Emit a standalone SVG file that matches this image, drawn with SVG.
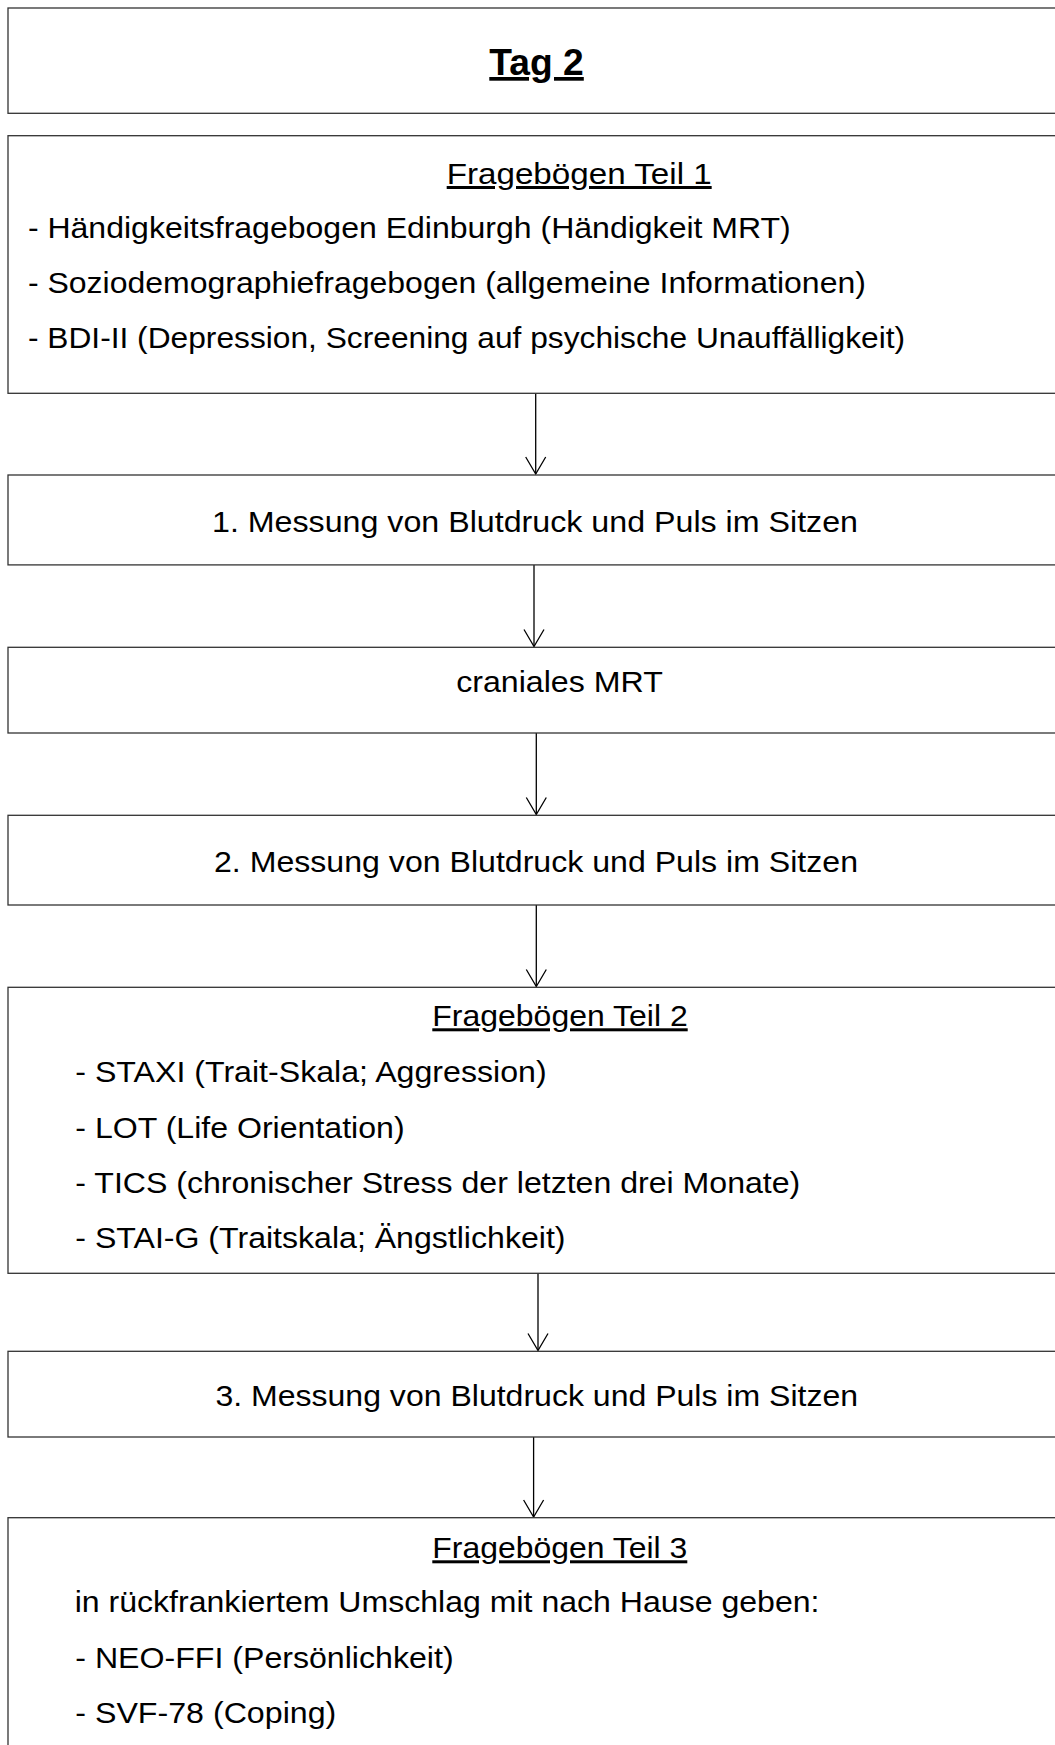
<svg xmlns="http://www.w3.org/2000/svg" width="1055" height="1745" viewBox="0 0 1055 1745">
<style>
  .box { fill: #ffffff; stroke: #333333; stroke-width: 1.3; }
  .t { font-family: "Liberation Sans", Arial, sans-serif; font-size: 30px; fill: #000000; }
  .h { text-decoration: underline; }
  .title { font-family: "Liberation Sans", Arial, sans-serif; font-size: 37px; font-weight: bold; fill: #000000; text-decoration: underline; }
  .conn { stroke: #000000; stroke-width: 1.3; fill: none; }
</style>
<defs>
  <marker id="arr" markerUnits="userSpaceOnUse" viewBox="-19 -12 21 24" refX="0" refY="0" markerWidth="21" markerHeight="24" orient="auto" overflow="visible">
    <path d="M-17,-10 L0,0 L-17,10" fill="none" stroke="#000000" stroke-width="1.3"/>
  </marker>
</defs>
<rect width="1055" height="1745" fill="#ffffff"/>

<g id="connectors">
  <line class="conn" x1="535.7" y1="393.3" x2="535.7" y2="474" marker-end="url(#arr)"/>
  <line class="conn" x1="534" y1="564.9" x2="534" y2="646.5" marker-end="url(#arr)"/>
  <line class="conn" x1="536.3" y1="733" x2="536.3" y2="814.5" marker-end="url(#arr)"/>
  <line class="conn" x1="536.3" y1="905" x2="536.3" y2="986.5" marker-end="url(#arr)"/>
  <line class="conn" x1="538" y1="1273.3" x2="538" y2="1350.5" marker-end="url(#arr)"/>
  <line class="conn" x1="533.6" y1="1437" x2="533.6" y2="1517" marker-end="url(#arr)"/>
</g>

<g id="node-tag2">
  <rect class="box" x="8" y="8" width="1060" height="105.3"/>
  <text class="title" x="489.3" y="75" textLength="94.5" lengthAdjust="spacingAndGlyphs">Tag 2</text>
</g>

<g id="node-frageboegen1">
  <rect class="box" x="8" y="135.7" width="1060" height="257.6"/>
  <text class="t h" x="446.7" y="184" textLength="265" lengthAdjust="spacingAndGlyphs">Fragebögen Teil 1</text>
  <text class="t" x="27.9" y="238.3" textLength="762.9" lengthAdjust="spacingAndGlyphs">- Händigkeitsfragebogen Edinburgh (Händigkeit MRT)</text>
  <text class="t" x="27.9" y="293.3" textLength="838" lengthAdjust="spacingAndGlyphs">- Soziodemographiefragebogen (allgemeine Informationen)</text>
  <text class="t" x="27.9" y="348.3" textLength="877.2" lengthAdjust="spacingAndGlyphs">- BDI-II (Depression, Screening auf psychische Unauffälligkeit)</text>
</g>

<g id="node-messung1">
  <rect class="box" x="8" y="475" width="1060" height="89.9"/>
  <text class="t" x="212" y="531.6" textLength="646" lengthAdjust="spacingAndGlyphs">1. Messung von Blutdruck und Puls im Sitzen</text>
</g>

<g id="node-mrt">
  <rect class="box" x="8" y="647.3" width="1060" height="85.7"/>
  <text class="t" x="456.2" y="692.3" textLength="206.6" lengthAdjust="spacingAndGlyphs">craniales MRT</text>
</g>

<g id="node-messung2">
  <rect class="box" x="8" y="815.3" width="1060" height="89.7"/>
  <text class="t" x="214" y="872" textLength="644" lengthAdjust="spacingAndGlyphs">2. Messung von Blutdruck und Puls im Sitzen</text>
</g>

<g id="node-frageboegen2">
  <rect class="box" x="8" y="987.3" width="1060" height="286"/>
  <text class="t h" x="432.3" y="1026.3" textLength="255.4" lengthAdjust="spacingAndGlyphs">Fragebögen Teil 2</text>
  <text class="t" x="75.3" y="1081.7" textLength="471.3" lengthAdjust="spacingAndGlyphs">- STAXI (Trait-Skala; Aggression)</text>
  <text class="t" x="75.3" y="1137.7" textLength="329.3" lengthAdjust="spacingAndGlyphs">- LOT (Life Orientation)</text>
  <text class="t" x="75.3" y="1193.3" textLength="725" lengthAdjust="spacingAndGlyphs">- TICS (chronischer Stress der letzten drei Monate)</text>
  <text class="t" x="75.3" y="1248.3" textLength="490.2" lengthAdjust="spacingAndGlyphs">- STAI-G (Traitskala; Ängstlichkeit)</text>
</g>

<g id="node-messung3">
  <rect class="box" x="8" y="1351.3" width="1060" height="85.7"/>
  <text class="t" x="215.4" y="1405.7" textLength="642.7" lengthAdjust="spacingAndGlyphs">3. Messung von Blutdruck und Puls im Sitzen</text>
</g>

<g id="node-frageboegen3">
  <rect class="box" x="8" y="1517.7" width="1060" height="300"/>
  <text class="t h" x="432.3" y="1558.3" textLength="255" lengthAdjust="spacingAndGlyphs">Fragebögen Teil 3</text>
  <text class="t" x="74.7" y="1611.7" textLength="744.8" lengthAdjust="spacingAndGlyphs">in rückfrankiertem Umschlag mit nach Hause geben:</text>
  <text class="t" x="75.3" y="1667.7" textLength="378.3" lengthAdjust="spacingAndGlyphs">- NEO-FFI (Persönlichkeit)</text>
  <text class="t" x="75.3" y="1722.7" textLength="261" lengthAdjust="spacingAndGlyphs">- SVF-78 (Coping)</text>
</g>
</svg>
